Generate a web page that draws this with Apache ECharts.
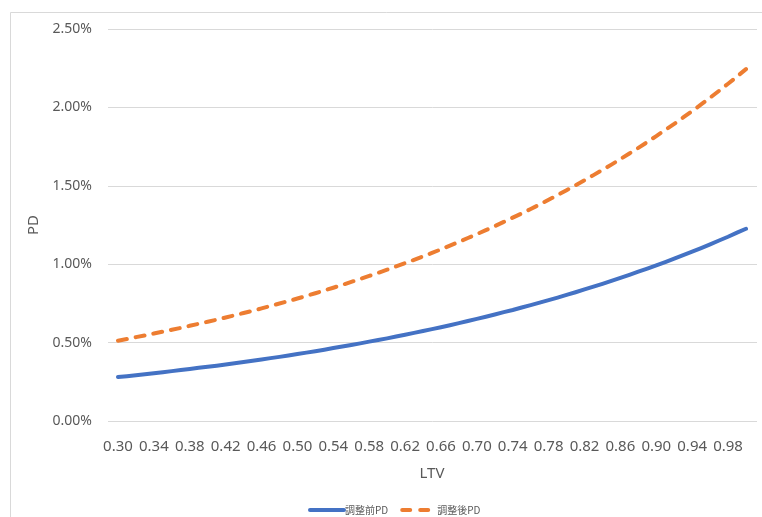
<!DOCTYPE html>
<html>
<head>
<meta charset="utf-8">
<script src="https://cdn.jsdelivr.net/npm/echarts@6/dist/echarts.min.js"></script>
<style>
  html, body { margin: 0; padding: 0; background: #ffffff; }
  #chart { width: 762px; height: 517px; }
</style>
</head>
<body>
<div id="chart"></div>
<script>
// LTV buckets on the category axis
const ltv = [
  '0.30','0.31','0.32','0.33','0.34','0.35','0.36','0.37','0.38','0.39',
  '0.40','0.41','0.42','0.43','0.44','0.45','0.46','0.47','0.48','0.49',
  '0.50','0.51','0.52','0.53','0.54','0.55','0.56','0.57','0.58','0.59',
  '0.60','0.61','0.62','0.63','0.64','0.65','0.66','0.67','0.68','0.69',
  '0.70','0.71','0.72','0.73','0.74','0.75','0.76','0.77','0.78','0.79',
  '0.80','0.81','0.82','0.83','0.84','0.85','0.86','0.87','0.88','0.89',
  '0.90','0.91','0.92','0.93','0.94','0.95','0.96','0.97','0.98','0.99',
  '1.00'
];

// PD in percent, before adjustment
const pdBefore = [
  0.280,0.286,0.292,0.298,0.305,0.311,0.318,0.325,0.332,0.339,
  0.346,0.353,0.361,0.368,0.376,0.384,0.392,0.401,0.409,0.418,
  0.427,0.436,0.445,0.455,0.465,0.475,0.485,0.495,0.506,0.516,
  0.527,0.539,0.550,0.562,0.574,0.586,0.598,0.611,0.624,0.638,
  0.651,0.665,0.679,0.694,0.708,0.724,0.739,0.755,0.771,0.787,
  0.804,0.821,0.839,0.857,0.875,0.894,0.913,0.932,0.952,0.972,
  0.993,1.014,1.036,1.058,1.080,1.103,1.127,1.151,1.175,1.201,
  1.226
];

// PD in percent, after adjustment
const pdAfter = [
  0.512,0.523,0.535,0.546,0.558,0.570,0.582,0.594,0.607,0.620,
  0.633,0.646,0.660,0.674,0.689,0.703,0.718,0.734,0.749,0.765,
  0.781,0.798,0.815,0.833,0.850,0.868,0.887,0.906,0.925,0.945,
  0.965,0.986,1.007,1.028,1.050,1.072,1.095,1.119,1.142,1.167,
  1.192,1.217,1.243,1.270,1.297,1.324,1.352,1.381,1.411,1.441,
  1.472,1.503,1.535,1.568,1.601,1.635,1.670,1.706,1.742,1.779,
  1.817,1.856,1.895,1.936,1.977,2.019,2.062,2.106,2.151,2.197,
  2.244
];

const seriesNames = ['調整前PD', '調整後PD'];

const latin = '"Noto Sans", "Open Sans", sans-serif';
const cjk = '"Noto Sans CJK JP", "Noto Sans", sans-serif';
const textColor = '#595959';
const gridColor = '#d9d9d9';

const chart = echarts.init(document.getElementById('chart'), null, { renderer: 'canvas' });

chart.setOption({
  animation: false,
  backgroundColor: '#ffffff',
  graphic: [{
    type: 'rect',
    shape: { x: 10.5, y: 12.5, width: 800, height: 600 },
    style: { fill: 'none', stroke: gridColor, lineWidth: 1 },
    silent: true
  }],
  legend: {
    left: 303,
    top: 500,
    itemWidth: 34,
    itemHeight: 10,
    itemGap: 12,
    itemStyle: { opacity: 0 },
    lineStyle: { width: 4, cap: 'round' },
    textStyle: { color: textColor, fontSize: 10, fontFamily: cjk, padding: [0, 0, 0, -4] },
    data: [
      { name: seriesNames[0] },
      { name: seriesNames[1], lineStyle: { width: 4, cap: 'round', type: [8, 10] } }
    ]
  },
  grid: [
    // frame carrying the value gridlines and y labels
    { left: 108, right: 5, top: 29, bottom: 96, containLabel: false },
    // frame for the plotted lines and LTV labels
    { left: 118, right: 16, top: 29, bottom: 96, containLabel: false }
  ],
  xAxis: [
    { gridIndex: 0, type: 'category', data: ltv, show: false },
    {
      gridIndex: 1,
      type: 'category',
      data: ltv,
      boundaryGap: false,
      name: 'LTV',
      nameLocation: 'middle',
      nameGap: 45,
      nameTextStyle: { color: textColor, fontSize: 15, fontFamily: latin },
      axisLine: { show: false },
      axisTick: { show: false },
      axisLabel: {
        interval: 3,
        color: textColor,
        fontSize: 15,
        fontFamily: latin,
        margin: 18
      },
      splitLine: { show: false }
    }
  ],
  yAxis: [
    {
      gridIndex: 0,
      type: 'value',
      min: 0,
      max: 2.5,
      interval: 0.5,
      name: 'PD',
      nameLocation: 'middle',
      nameGap: 61,
      nameRotate: 90,
      nameTextStyle: { color: textColor, fontSize: 15, fontFamily: latin },
      axisLine: { show: false },
      axisTick: { show: false },
      axisLabel: {
        color: textColor,
        fontSize: 14,
        fontFamily: latin,
        margin: 16,
        formatter: v => v.toFixed(2) + '%'
      },
      splitLine: { show: true, lineStyle: { color: gridColor, width: 1 } }
    },
    {
      gridIndex: 1,
      type: 'value',
      min: 0,
      max: 2.5,
      interval: 0.5,
      show: false,
      splitLine: { show: false }
    }
  ],
  series: [
    {
      name: seriesNames[0],
      type: 'line',
      xAxisIndex: 1,
      yAxisIndex: 1,
      data: pdBefore,
      showSymbol: false,
      symbol: 'none',
      lineStyle: { color: '#4472C4', width: 4, cap: 'round', join: 'round' },
      itemStyle: { color: '#4472C4' }
    },
    {
      name: seriesNames[1],
      type: 'line',
      xAxisIndex: 1,
      yAxisIndex: 1,
      data: pdAfter,
      showSymbol: false,
      symbol: 'none',
      lineStyle: { color: '#ED7D31', width: 4, type: [9, 9], cap: 'round', join: 'round' },
      itemStyle: { color: '#ED7D31' }
    }
  ]
});
</script>
</body>
</html>
